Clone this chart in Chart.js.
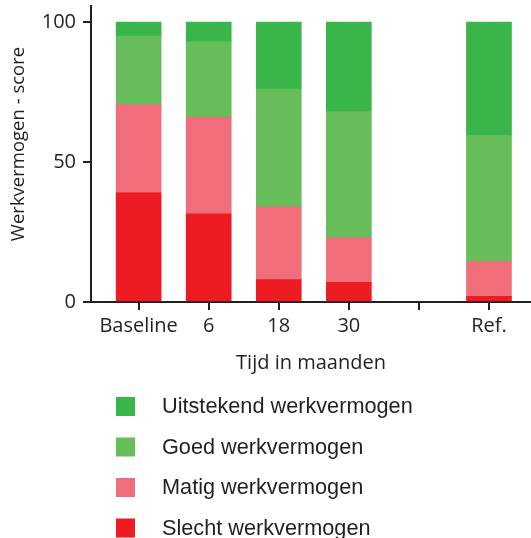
<!DOCTYPE html>
<html>
<head>
<meta charset="utf-8">
<script src="https://cdn.jsdelivr.net/npm/chart.js@4.4.1/dist/chart.umd.min.js"></script>
<style>
  html, body { margin: 0; padding: 0; background: #ffffff; }
  #wrap { position: relative; width: 531px; height: 538px; }
</style>
</head>
<body>
<div id="wrap"><canvas id="c" width="531" height="538"></canvas></div>
<script>
// ---- data ----
const categories = ['Baseline', '6', '18', '30', '', 'Ref.'];
const slecht     = [39,   31.5, 8,  7,  null, 2];
const matig      = [31.5, 34.5, 26, 16, null, 12.5];
const goed       = [24.5, 27,   42, 45, null, 45];
const uitstekend = [5,    7,    24, 32, null, 40.5];
const seriesLabels = ['Slecht werkvermogen', 'Matig werkvermogen', 'Goed werkvermogen', 'Uitstekend werkvermogen'];
const yTickValues = [0, 50, 100];
const xTitle = 'Tijd in maanden';
const yTitle = 'Werkvermogen - score';

// ---- styles ----
const colors = ['#ED1C24', '#F06E79', '#66BD5A', '#3AB54A'];
const ink = '#231f20';
const axisFont = { family: '"Open Sans", sans-serif', size: 20 };

function toPoints(arr) {
  return arr.map((v, i) => ({ x: i, y: v })).filter(p => p.y !== null);
}
const seriesValues = [slecht, matig, goed, uitstekend];

const datasets = seriesValues.map((arr, k) => ({
  label: seriesLabels[k],
  data: toPoints(arr),
  backgroundColor: colors[k],
  borderWidth: 0,
  barThickness: 45,
  stack: 'all'
}));

const extras = {
  id: 'extras',
  afterDraw(chart) {
    const ctx = chart.ctx;
    // y-axis title
    ctx.save();
    ctx.fillStyle = ink;
    ctx.font = `18.5px ${axisFont.family}`;
    ctx.translate(19, 144);
    ctx.rotate(-Math.PI / 2);
    ctx.textAlign = 'center';
    ctx.textBaseline = 'middle';
    ctx.fillText(yTitle, 0, 0);
    ctx.restore();

    // legend (top item = last dataset)
    ctx.save();
    ctx.font = '21.7px "Liberation Sans", Arial, sans-serif';
    ctx.textAlign = 'left';
    ctx.textBaseline = 'alphabetic';
    const n = chart.data.datasets.length;
    for (let j = 0; j < n; j++) {
      const ds = chart.data.datasets[n - 1 - j];
      const top = 397 + j * 40.5;
      ctx.fillStyle = ds.backgroundColor;
      ctx.fillRect(116, top, 19, 19);
      ctx.fillStyle = ink;
      ctx.fillText(ds.label, 162, top + 16.4);
    }
    ctx.restore();
  }
};

new Chart(document.getElementById('c'), {
  type: 'bar',
  data: { datasets },
  plugins: [extras],
  options: {
    responsive: false,
    animation: false,
    layout: { padding: { top: 6, right: 0, bottom: 159, left: 0 } },
    plugins: { legend: { display: false }, tooltip: { enabled: false } },
    scales: {
      x: {
        type: 'linear',
        offset: false,
        min: -0.68,
        max: 5.6,
        afterBuildTicks(scale) { scale.ticks = categories.map((c, i) => ({ value: i })); },
        afterFit(scale) { scale.height = 77; scale.paddingLeft = 0; scale.paddingRight = 0; },
        ticks: {
          autoSkip: false,
          maxRotation: 0,
          padding: 4,
          color: ink,
          font: axisFont,
          callback: (v) => categories[v] ?? ''
        },
        grid: { display: true, offset: false, drawOnChartArea: false, drawTicks: true, tickLength: 8, color: ink, lineWidth: 2 },
        border: { display: true, color: ink, width: 2 },
        title: { display: true, text: xTitle, color: ink, font: axisFont, padding: { top: 0, bottom: 4 } }
      },
      y: {
        stacked: true,
        min: 0,
        max: 105.7,
        afterBuildTicks(scale) { scale.ticks = yTickValues.map(v => ({ value: v })); },
        afterFit(scale) { scale.width = 91; scale.paddingTop = 0; scale.paddingBottom = 0; },
        ticks: { padding: 7, color: ink, font: axisFont },
        grid: { display: true, drawOnChartArea: false, drawTicks: true, tickLength: 8, color: ink, lineWidth: 2 },
        border: { display: true, color: ink, width: 2 }
      }
    }
  }
});
</script>
</body>
</html>
